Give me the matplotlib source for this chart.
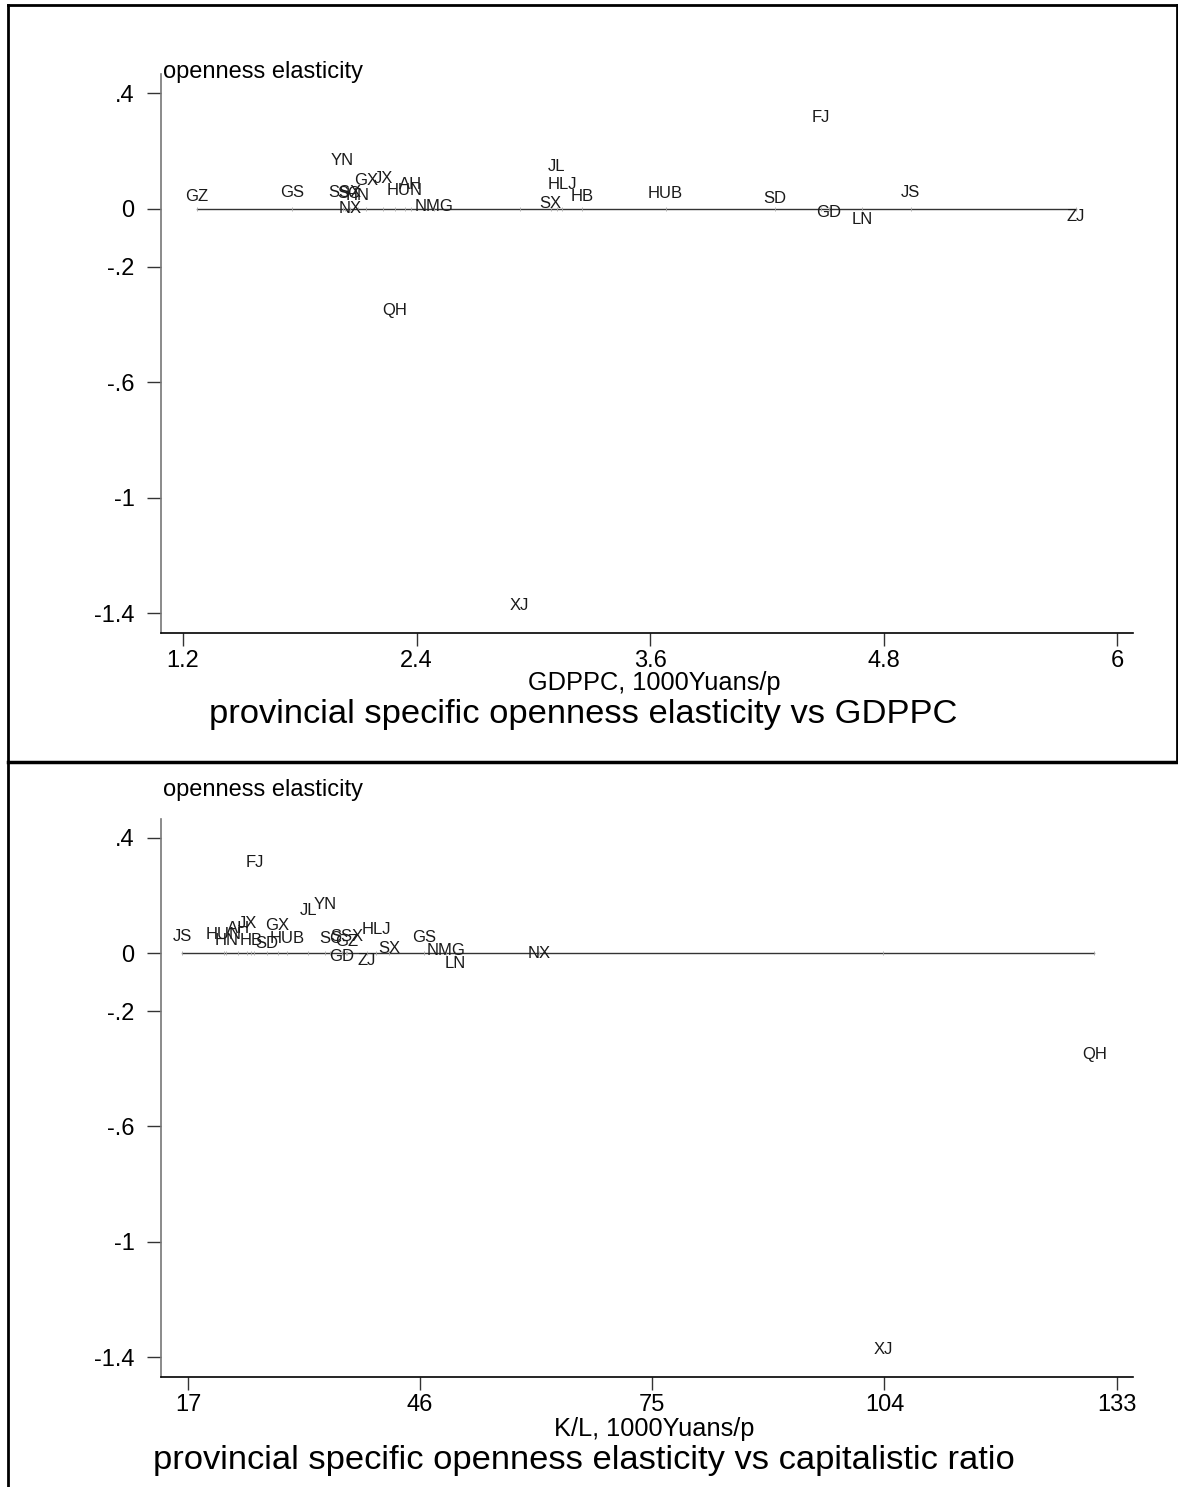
import numpy as np
import matplotlib.pyplot as plt

plt.rcParams['font.family'] = ['Liberation Sans', 'DejaVu Sans']

# province codes and the estimated openness elasticity
gdp_codes = ['GZ', 'GS', 'SSX', 'SC', 'HN', 'NX', 'YN', 'GX', 'JX', 'HUN', 'AH',
             'NMG', 'QH', 'XJ', 'SX', 'JL', 'HLJ', 'HB', 'HUB', 'SD', 'FJ', 'GD',
             'LN', 'JS', 'ZJ']
gdp_x = [1.27, 1.76, 2.03, 2.05, 2.10, 2.06, 2.02, 2.14, 2.23, 2.34, 2.37,
         2.49, 2.29, 2.93, 3.09, 3.12, 3.15, 3.25, 3.68, 4.24, 4.48, 4.52,
         4.69, 4.94, 5.79]

kl_codes = ['JS', 'HUN', 'HN', 'AH', 'JX', 'HB', 'FJ', 'SD', 'GX', 'HUB', 'JL',
            'YN', 'SC', 'GD', 'GZ', 'SSX', 'ZJ', 'HLJ', 'SX', 'GS', 'NMG', 'LN',
            'NX', 'XJ', 'QH']
kl_x = [16.3, 21.5, 21.8, 23.3, 24.4, 24.9, 25.3, 26.9, 28.2, 29.4, 32.0,
        34.1, 34.8, 36.2, 36.8, 36.9, 39.3, 40.5, 42.1, 46.5, 49.2, 50.4,
        60.9, 103.8, 130.2]

elasticity = {'GZ': 0.042, 'GS': 0.056, 'SC': 0.052, 'SSX': 0.057, 'HN': 0.045,
              'NX': 0.0, 'YN': 0.168, 'GX': 0.097, 'JX': 0.105, 'HUN': 0.065,
              'AH': 0.085, 'NMG': 0.009, 'QH': -0.352, 'XJ': -1.373, 'JL': 0.147,
              'HLJ': 0.084, 'SX': 0.018, 'HB': 0.043, 'HUB': 0.052, 'SD': 0.035,
              'FJ': 0.316, 'GD': -0.012, 'LN': -0.036, 'JS': 0.058, 'ZJ': -0.026}

y_ticks = [0.4, 0, -0.2, -0.6, -1, -1.4]
y_ticklabels = ['.4', '0', '-.2', '-.6', '-1', '-1.4']
gdp_ticks = [1.2, 2.4, 3.6, 4.8, 6]
gdp_ticklabels = ['1.2', '2.4', '3.6', '4.8', '6']
kl_ticks = [17, 46, 75, 104, 133]

W, H = 1178, 1487
fig = plt.figure(figsize=(W / 100, H / 100), dpi=100)


def px_axes(left, top, right, bottom):
    return fig.add_axes([left / W, 1 - bottom / H, (right - left) / W, (bottom - top) / H])


def panel(ax, codes, xs, xticks, xticklabels, xlim):
    ys = [elasticity[c] for c in codes]
    xs_sorted = np.sort(xs)
    ax.plot(xs_sorted, np.zeros(len(xs_sorted)), color='#333333', lw=1.0, zorder=1)
    ax.plot(xs_sorted, np.zeros(len(xs_sorted)), ls='none', marker='|', ms=3,
            mew=0.6, color='#aaaaaa', zorder=1)
    for c, x, y in zip(codes, xs, ys):
        ax.text(x, y, c, ha='center', va='center', fontsize=12, color='#1a1a1a')
    ax.set_xlim(*xlim)
    ax.set_ylim(-1.469, 0.4675)
    ax.set_yticks(y_ticks)
    ax.set_yticklabels(y_ticklabels)
    ax.set_xticks(xticks)
    ax.set_xticklabels(xticklabels)
    ax.spines['top'].set_visible(False)
    ax.spines['right'].set_visible(False)
    ax.spines['left'].set_color('#777777')
    ax.spines['bottom'].set_color('black')
    ax.spines['left'].set_linewidth(1.2)
    ax.spines['bottom'].set_linewidth(1.2)
    ax.tick_params(axis='y', length=10, width=1, color='#333333', labelsize=17, pad=9)
    ax.tick_params(axis='x', length=9, width=1, color='#333333', labelsize=17, pad=3)


# top panel
ax1 = px_axes(161, 74, 1133, 633)
panel(ax1, gdp_codes, gdp_x, gdp_ticks, gdp_ticklabels, (1.087, 6.082))
fig.text(163 / W, 1 - 72 / H, 'openness elasticity', fontsize=17, va='center')
fig.text(654 / W, 1 - 683 / H, 'GDPPC, 1000Yuans/p', fontsize=18.3,
         ha='center', va='center')
fig.text(583 / W, 1 - 715 / H, 'provincial specific openness elasticity vs GDPPC',
         fontsize=24.8, ha='center', va='center')

# bottom panel
ax2 = px_axes(161, 818.5, 1133, 1377)
panel(ax2, kl_codes, kl_x, kl_ticks, [str(t) for t in kl_ticks], (13.63, 135.04))
fig.text(163 / W, 1 - 790 / H, 'openness elasticity', fontsize=17, va='center')
fig.text(654 / W, 1 - 1429 / H, 'K/L, 1000Yuans/p', fontsize=18.3,
         ha='center', va='center')
fig.text(584 / W, 1 - 1460 / H, 'provincial specific openness elasticity vs capitalistic ratio',
         fontsize=24.8, ha='center', va='center')

# panel frames
frame_kw = dict(color='black', lw=2, transform=fig.transFigure)
fig.add_artist(plt.Line2D([8 / W, 8 / W], [0, 1 - 5 / H], **frame_kw))
fig.add_artist(plt.Line2D([8 / W, 1], [1 - 5 / H, 1 - 5 / H], **frame_kw))
fig.add_artist(plt.Line2D([1 - 1 / W, 1 - 1 / W], [1 - 5 / H, 1 - 762 / H], **frame_kw))
fig.add_artist(plt.Line2D([8 / W, 1], [1 - 762 / H, 1 - 762 / H], color='black', lw=2.5,
                          transform=fig.transFigure))

fig.savefig('out.png', dpi=100, facecolor='white')
